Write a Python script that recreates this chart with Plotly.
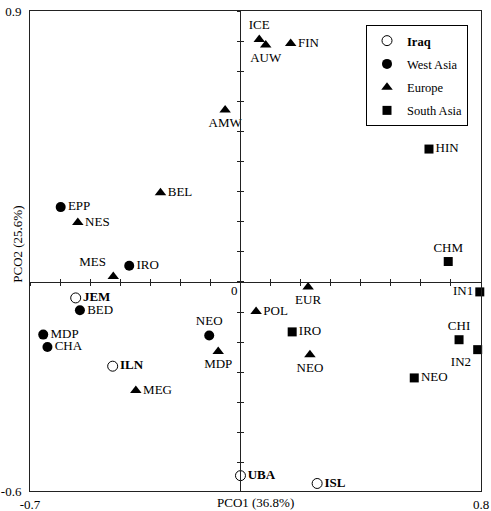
import plotly.graph_objects as go

# ---- data ----
iraq_names = ["JEM", "ILN", "UBA", "ISL"]
iraq_x = [-0.548, -0.425, 0.000, 0.255]
iraq_y = [-0.053, -0.280, -0.644, -0.670]

west_names = ["EPP", "IRO", "BED", "MDP", "CHA", "NEO"]
west_x = [-0.598, -0.370, -0.534, -0.656, -0.642, -0.104]
west_y = [0.249, 0.054, -0.094, -0.175, -0.216, -0.178]

europe_names = ["ICE", "AUW", "FIN", "AMW", "BEL", "NES", "MES", "EUR", "POL", "MDP", "NEO", "MEG"]
europe_x = [0.0625, 0.084, 0.167, -0.051, -0.266, -0.541, -0.423, 0.225, 0.052, -0.074, 0.231, -0.348]
europe_y = [0.806, 0.788, 0.793, 0.572, 0.297, 0.198, 0.018, -0.017, -0.098, -0.231, -0.242, -0.361]

south_names = ["HIN", "CHM", "IN1", "IRO", "CHI", "IN2", "NEO"]
south_x = [0.627, 0.691, 0.796, 0.172, 0.727, 0.789, 0.578]
south_y = [0.442, 0.068, -0.033, -0.166, -0.192, -0.225, -0.319]

x_range = [-0.7, 0.8]
y_range = [-0.695, 0.901]
x_tick_labels = ["-0.7", "0.8"]
y_tick_labels = ["-0.6", "0.9"]
x_title = "PCO1 (36.8%)"
y_title = "PCO2 (25.6%)"

# label placement per point (styling)
iraq_pos = ["middle right"] * 4
west_pos = ["middle right"] * 5 + ["top center"]
europe_pos = ["top center", "bottom center", "middle right", "bottom center", "middle right",
              "middle right", "top left", "bottom center", "middle right", "bottom center",
              "bottom center", "middle right"]
south_pos = ["middle right", "top center", "middle left", "middle right", "top center",
             "bottom left", "middle right"]

FONT = "Times New Roman, Liberation Serif, serif"

fig = go.Figure()

groups = [
    ("<b>Iraq</b>", iraq_names, iraq_x, iraq_y, iraq_pos,
     dict(symbol="circle-open", size=10, color="black", line=dict(width=1, color="black")), "bold"),
    ("West Asia", west_names, west_x, west_y, west_pos,
     dict(symbol="circle", size=10, color="black"), "normal"),
    ("Europe", europe_names, europe_x, europe_y, europe_pos,
     dict(symbol="triangle-up", size=10, color="black"), "normal"),
    ("South Asia", south_names, south_x, south_y, south_pos,
     dict(symbol="square", size=9, color="black"), "normal"),
]

for i, (name, labels, xs, ys, pos, marker, weight) in enumerate(groups):
    # labels: transparent markers of the same size so text offsets clear the symbol
    fig.add_trace(go.Scatter(
        x=xs, y=ys, mode="markers+text", text=labels, textposition=pos,
        marker=dict(size=marker["size"], color="rgba(0,0,0,0)"),
        textfont=dict(family=FONT, size=13, color="black", weight=weight),
        showlegend=False, hoverinfo="skip", cliponaxis=False))
    fig.add_trace(go.Scatter(
        x=xs, y=ys, mode="markers", name=name, marker=marker,
        legendgroup=str(i), hoverinfo="skip", cliponaxis=False))

# dummy traces to create the crossing centre axes
fig.add_trace(go.Scatter(x=[], y=[], xaxis="x2", yaxis="y2", showlegend=False))
fig.add_trace(go.Scatter(x=[], y=[], xaxis="x3", yaxis="y3", showlegend=False))

x_zero_pos = (0 - x_range[0]) / (x_range[1] - x_range[0])
y_zero_pos = (0 - y_range[0]) / (y_range[1] - y_range[0])

frame_color = "#222222"
centre_axis = dict(showline=True, linecolor=frame_color, linewidth=1, ticklen=3,
                   tickcolor=frame_color, tickwidth=1, dtick=0.1, tick0=0,
                   showticklabels=False, showgrid=False, zeroline=False, anchor="free",
                   automargin=False)

fig.update_layout(
    width=491, height=511,
    margin=dict(l=30, r=10, t=11, b=20, autoexpand=False),
    paper_bgcolor="white", plot_bgcolor="white",
    font=dict(family=FONT, size=13, color="black"),
    showlegend=True,
    legend=dict(x=(366 - 30) / 451, y=(491 - 25) / 480, xanchor="left", yanchor="top",
                bordercolor="black", borderwidth=1, bgcolor="white",
                font=dict(family=FONT, size=12.5, color="black"),
                traceorder="grouped", tracegroupgap=4),
    xaxis=dict(range=x_range, showline=True, mirror=True, linecolor=frame_color, linewidth=1,
               ticks="", tickvals=x_range, ticktext=x_tick_labels, showgrid=False,
               zeroline=False, ticklabelstandoff=1, automargin=False),
    yaxis=dict(range=y_range, showline=True, mirror=True, linecolor=frame_color, linewidth=1,
               ticks="", tickvals=y_range, ticktext=y_tick_labels, showgrid=False,
               zeroline=False, ticklabelstandoff=5, automargin=False),
    xaxis2=dict(centre_axis, overlaying="x", range=x_range, position=y_zero_pos, ticks="outside"),
    yaxis2=dict(centre_axis, overlaying="y", range=y_range, position=x_zero_pos, ticks="outside"),
    xaxis3=dict(centre_axis, overlaying="x", range=x_range, position=y_zero_pos, ticks="inside"),
    yaxis3=dict(centre_axis, overlaying="y", range=y_range, position=x_zero_pos, ticks="inside"),
    annotations=[
        dict(text=x_title, xref="paper", yref="paper", x=0.5, y=0, xanchor="center",
             yanchor="top", yshift=-2, showarrow=False, font=dict(family=FONT, size=13)),
        dict(text=y_title, xref="paper", yref="paper", x=0, y=0.513, xanchor="center",
             yanchor="middle", xshift=-12, textangle=-90, showarrow=False,
             font=dict(family=FONT, size=13)),
        dict(text="0", x=0, y=0, xref="x", yref="y", xanchor="right", yanchor="top",
             xshift=0, yshift=1, showarrow=False, font=dict(family=FONT, size=13)),
    ],
)

fig.write_html("out.html", config={"displayModeBar": False})

# remove the browser's default body margin so the figure sits at the page origin
with open("out.html", "r", encoding="utf-8") as f:
    html = f.read()
html = html.replace("<head>", "<head><style>html,body{margin:0;padding:0;}</style>", 1)
with open("out.html", "w", encoding="utf-8") as f:
    f.write(html)
